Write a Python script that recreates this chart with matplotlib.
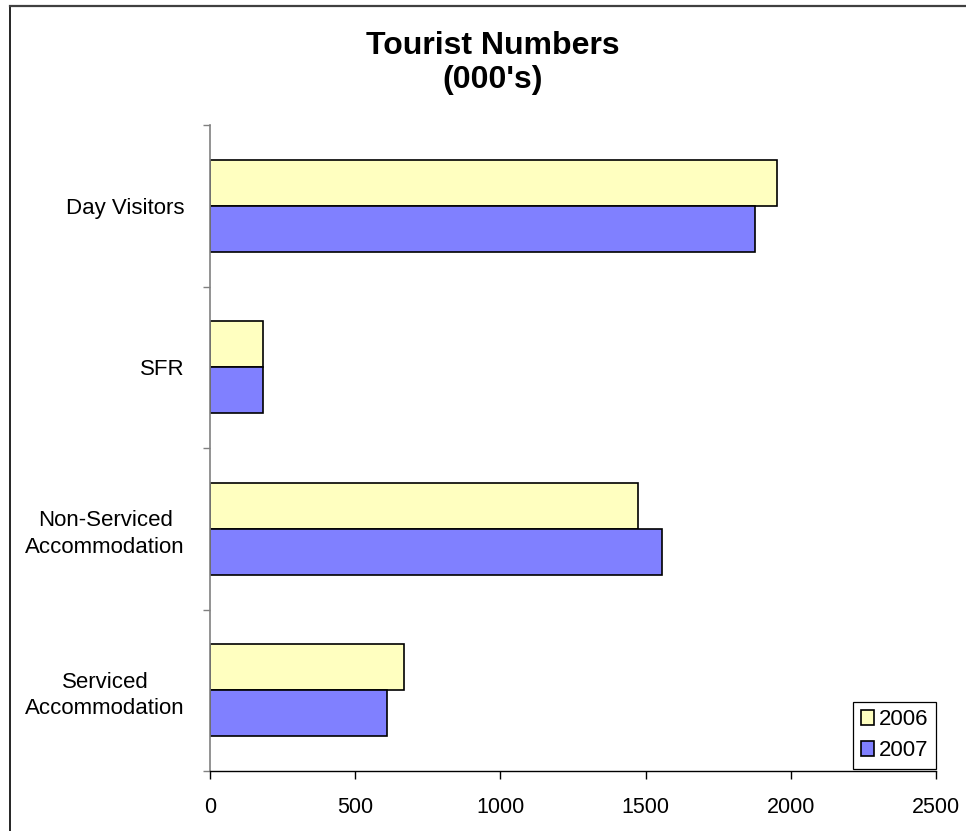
import matplotlib.pyplot as plt
import matplotlib.ticker as ticker
from matplotlib.lines import Line2D
import numpy as np

plt.rcParams['font.family'] = ['Liberation Sans', 'DejaVu Sans']

# ── Data ───────────────────────────────────────────────────────────────────────
categories = ['Day Visitors', 'SFR', 'Non-Serviced\nAccommodation',
              'Serviced\nAccommodation']
vals_2006 = [1952, 182, 1474, 668]
vals_2007 = [1877, 182, 1557, 610]
years = ['2006', '2007']
x_ticks = [0, 500, 1000, 1500, 2000, 2500]

COL_2006 = '#FFFFC0'
COL_2007 = '#8080FF'

# ── Plot ───────────────────────────────────────────────────────────────────────
fig = plt.figure(figsize=(9.66, 8.31), dpi=100)
ax = fig.add_axes([210 / 966, 1 - 771 / 831, 726 / 966, 646 / 831])

y = np.arange(len(categories))
h = 0.2857
ax.barh(y - h / 2, vals_2006, h, color=COL_2006, edgecolor='black',
        linewidth=1.2, label=years[0])
ax.barh(y + h / 2, vals_2007, h, color=COL_2007, edgecolor='black',
        linewidth=1.2, label=years[1])

ax.set_xlim(0, 2500)
ax.set_ylim(len(categories) - 0.5, -0.5)
ax.set_xticks(x_ticks)
ax.set_xticklabels([str(v) for v in x_ticks])

# category boundaries get the tick marks, centres get the labels
ax.yaxis.set_major_locator(ticker.FixedLocator(np.arange(len(categories) + 1) - 0.5))
ax.yaxis.set_major_formatter(ticker.NullFormatter())
ax.yaxis.set_minor_locator(ticker.FixedLocator(y))
ax.yaxis.set_minor_formatter(ticker.FixedFormatter(categories))
for lbl in ax.get_yticklabels(minor=True):
    lbl.set_multialignment('center')
    lbl.set_linespacing(1.35)

ax.tick_params(axis='y', which='major', direction='out', length=5,
               width=1, color='#808080')
ax.tick_params(axis='y', which='minor', length=0, pad=18, labelsize=16)
ax.tick_params(axis='x', direction='out', length=6, width=1, color='black',
               labelsize=15.5, pad=13)

for s in ['top', 'right']:
    ax.spines[s].set_visible(False)
ax.spines['left'].set_color('#808080')
ax.spines['left'].set_linewidth(1.2)
ax.spines['bottom'].set_color('black')
ax.spines['bottom'].set_linewidth(1.0)

leg = ax.legend(loc='lower right', bbox_to_anchor=(1.0, 0.003),
                borderaxespad=0, fontsize=16, fancybox=False, framealpha=1,
                edgecolor='black', handlelength=0.6, handleheight=0.7,
                handletextpad=0.2, borderpad=0.35, labelspacing=0.45)
leg.get_frame().set_linewidth(0.9)

fig.text(0.510, 1 - 63 / 831, "Tourist Numbers\n(000's)", ha='center',
         va='center', fontsize=23, fontweight='bold', linespacing=1.15)

# chart area border (left and top edges visible)
fig.add_artist(Line2D([10 / 966, 10 / 966], [0, 1 - 6 / 831],
                      transform=fig.transFigure, color='black', linewidth=1.2))
fig.add_artist(Line2D([10 / 966, 1], [1 - 6 / 831, 1 - 6 / 831],
                      transform=fig.transFigure, color='#404040', linewidth=1.6))

fig.savefig('out.png', dpi=100)
